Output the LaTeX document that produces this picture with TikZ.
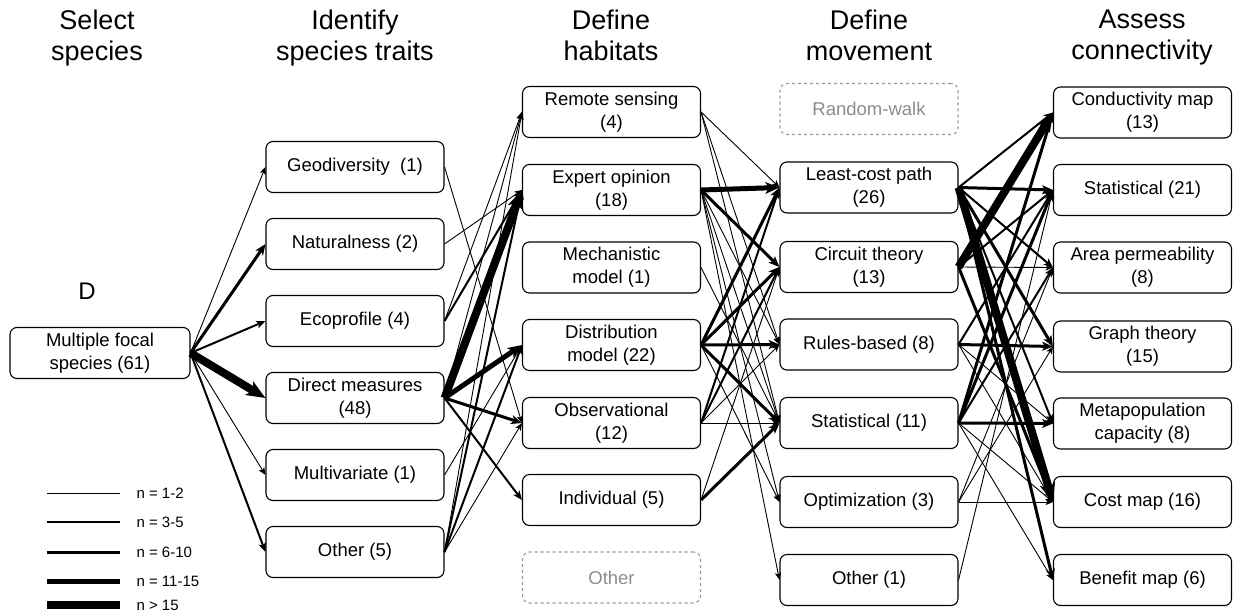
\documentclass[tikz,border=0pt]{standalone}
\usepackage{fontspec}
\setmainfont{Liberation Sans}
\usetikzlibrary{arrows.meta}
\begin{document}
\begin{tikzpicture}[x=1pt,y=-1pt,
  box/.style={draw, rounded corners=7pt, line width=1.1pt, minimum width=178pt,
    minimum height=51pt, align=center, inner sep=1pt,
    font=\fontsize{18.5}{23}\selectfont},
  ghost/.style={box, draw=black!40, dashed, text=black!45},
  title/.style={align=center, anchor=north, inner sep=0pt,
    font=\fontsize{27}{31}\selectfont},
  legtext/.style={anchor=west, font=\fontsize{15}{18}\selectfont},
  link/.style={-{Stealth[length=6pt 1.6, width=5pt 1.3, inset=1.5pt 0.4]}},
  w1/.style={line width=0.9pt},
  w2/.style={line width=2pt},
  w3/.style={line width=3pt},
  w4/.style={line width=5pt},
  w5/.style={line width=8pt}]
\useasboundingbox (0,0) rectangle (1233,613);

% column titles
\node[title] (t0) at (97,10)   {Select\\species};
\node[title] (t1) at (355,10)  {Identify\\species traits};
\node[title] (t2) at (611,10)  {Define\\habitats};
\node[title] (t3) at (869,10)  {Define\\movement};
\node[title] (t4) at (1142,10) {Assess\\connectivity};

% select species
\node[font=\fontsize{24}{28}\selectfont] (lblD) at (87,291) {D};
\node[box, minimum width=180pt] (sp) at (100,353) {Multiple focal\\species (61)};

% species traits
\node[box] (geo) at (355,167) {Geodiversity\ \ (1)};
\node[box] (nat) at (355,244) {Naturalness (2)};
\node[box] (eco) at (355,321) {Ecoprofile (4)};
\node[box] (dir) at (355,398) {Direct measures\\(48)};
\node[box] (mul) at (355,475) {Multivariate (1)};
\node[box] (ot1) at (355,552) {Other (5)};

% habitats
\node[box] (rem) at (611.5,112)   {Remote sensing\\(4)};
\node[box] (exp) at (611.5,190)   {Expert opinion\\(18)};
\node[box] (mec) at (611.5,267.5) {Mechanistic\\model (1)};
\node[box] (dis) at (611.5,345)   {Distribution\\model (22)};
\node[box] (obs) at (611.5,423)   {Observational\\(12)};
\node[box] (ind) at (611.5,500)   {Individual (5)};
\node[ghost] (ot2) at (611.5,577.5) {Other};

% movement
\node[ghost] (rw) at (869,109) {Random-walk};
\node[box] (lcp) at (869,187.5) {Least-cost path\\(26)};
\node[box] (cir) at (869,267)   {Circuit theory\\(13)};
\node[box] (rul) at (869,344.5) {Rules-based (8)};
\node[box] (st3) at (869,423)   {Statistical (11)};
\node[box] (opt) at (869,502)   {Optimization (3)};
\node[box] (ot3) at (869,580)   {Other (1)};

% connectivity
\node[box] (con) at (1142.5,112.5) {Conductivity map\\(13)};
\node[box] (st4) at (1142.5,190)   {Statistical (21)};
\node[box] (are) at (1142.5,267.5) {Area permeability\\(8)};
\node[box] (gra) at (1142.5,346.5) {Graph theory\\(15)};
\node[box] (met) at (1142.5,423.5) {Metapopulation\\capacity (8)};
\node[box] (cos) at (1142.5,502)   {Cost map (16)};
\node[box] (ben) at (1142.5,580)   {Benefit map (6)};

% links: source/target/weight class
\foreach \s/\t/\w in {
  sp/geo/w1, sp/nat/w3, sp/eco/w2, sp/dir/w5, sp/mul/w1, sp/ot1/w2,
  geo/obs/w1, nat/exp/w1,
  eco/rem/w1, eco/exp/w2,
  dir/rem/w1, dir/exp/w5, dir/dis/w4, dir/obs/w3, dir/ind/w2,
  mul/dis/w1,
  ot1/rem/w1, ot1/exp/w2, ot1/dis/w2, ot1/obs/w1,
  rem/lcp/w1, rem/rul/w1, rem/st3/w1,
  exp/lcp/w4, exp/cir/w3, exp/rul/w1, exp/st3/w1, exp/opt/w1, exp/ot3/w1,
  mec/st3/w1,
  dis/lcp/w3, dis/cir/w3, dis/rul/w3, dis/st3/w3, dis/opt/w1,
  obs/lcp/w2, obs/cir/w2, obs/rul/w1, obs/st3/w1,
  ind/cir/w1, ind/st3/w3,
  lcp/con/w2, lcp/st4/w3, lcp/are/w2, lcp/gra/w3, lcp/met/w2, lcp/cos/w5, lcp/ben/w3,
  cir/con/w5, cir/st4/w2, cir/are/w1, cir/cos/w3,
  rul/st4/w2, rul/gra/w3, rul/met/w1, rul/cos/w1,
  st3/con/w3, st3/st4/w3, st3/are/w2, st3/met/w3, st3/cos/w1, st3/ben/w1,
  opt/are/w1, opt/gra/w1, opt/cos/w1,
  ot3/st4/w1}
  \draw[link, \w] (\s.east) -- (\t.west);

% legend
\foreach \w/\y/\txt [count=\i] in {w1/493/{n = 1-2}, w2/522/{n = 3-5}, w3/552/{n = 6-10},
    w4/581/{n = 11-15}, w5/605/{n > 15}} {
  \coordinate (la\i) at (47,\y);
  \coordinate (lb\i) at (120,\y);
  \draw[\w] (la\i) -- (lb\i);
  \node[legtext] (lt\i) at (133,\y) {\txt};
}
\end{tikzpicture}
\end{document}
